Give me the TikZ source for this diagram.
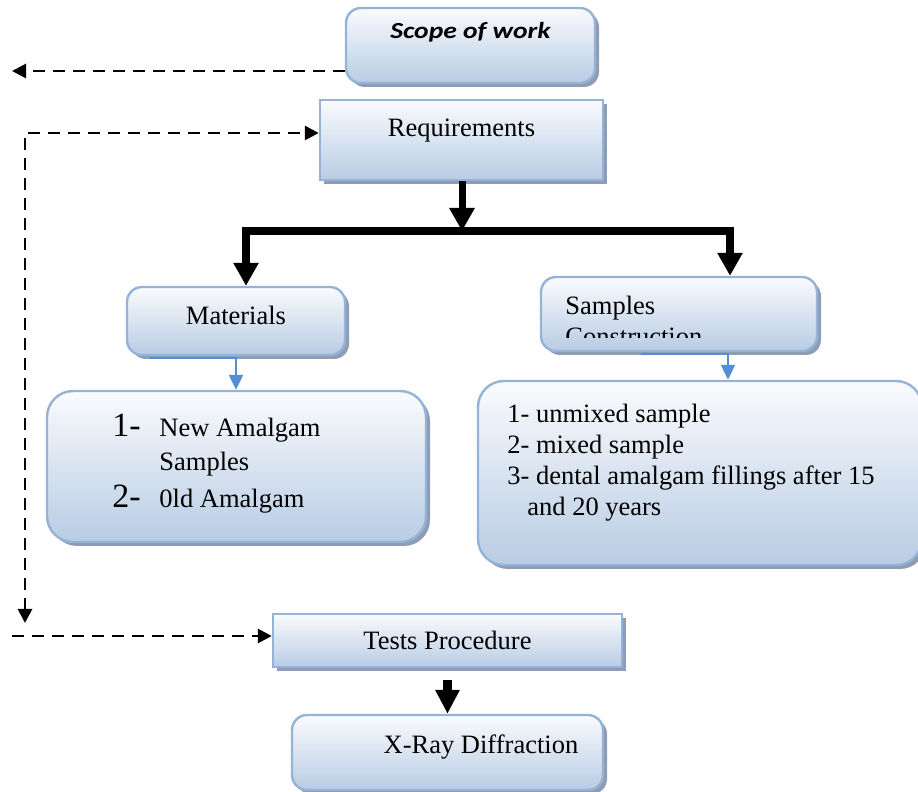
\documentclass[tikz,border=0pt]{standalone}
\usepackage{fontspec}
\setmainfont{Liberation Serif}
\newfontfamily\calfont{Carlito}
\usepackage{graphicx}
\usetikzlibrary{arrows.meta,shadows}
\definecolor{boxtop}{RGB}{250,251,253}
\definecolor{boxbot}{RGB}{184,204,228}
\definecolor{boxline}{RGB}{149,179,215}
\definecolor{boxshade}{RGB}{142,156,180}
\definecolor{linkblue}{RGB}{85,142,213}

\begin{document}
\begin{tikzpicture}[x=0.5pt, y=-0.5pt,
  base/.style={draw=boxline, line width=1.2pt, top color=boxtop, bottom color=boxbot,
    drop shadow={shadow xshift=2pt, shadow yshift=-2pt, fill=boxshade, opacity=1},
    font=\fontsize{13.25}{16}\selectfont, inner sep=0pt},
  card/.style={base, rounded corners=7.5pt},
  plate/.style={base, rounded corners=0pt},
  panel/.style={base, rounded corners=13pt},
  items/.style={inner sep=0pt, anchor=base west, font=\fontsize{13.25}{15.4}\selectfont},
  dashlink/.style={dash pattern=on 6pt off 4pt, line width=1.4pt, -{Triangle[width=7pt,length=7pt]}},
  bigarr/.style={line width=3.5pt, -{Triangle[width=12pt,length=11.5pt]}},
  bigfork/.style={line width=4pt, {Triangle[width=12pt,length=11.5pt]}-{Triangle[width=12pt,length=11.5pt]}},
  bluearr/.style={draw=linkblue, line width=1.1pt, -{Triangle[width=7pt,length=7.5pt]}}
]
\path[use as bounding box, clip] (0,0) rectangle (918,792);

% boxes
\node[card, minimum width=124.5pt, minimum height=37.5pt, text height=7pt, text depth=13.5pt] (scope) at (470.5,45.5)
  {\calfont\fontsize{11.5}{13}\selectfont\bfseries\itshape\scalebox{1.2}[1]{Scope of work}};
\node[plate, minimum width=141.5pt, minimum height=40pt, text height=9pt, text depth=12pt] (req) at (461.5,140) {Requirements};
\node[card, minimum width=109pt, minimum height=34pt, text height=11pt, text depth=7pt] (mat) at (236,321) {Materials};
\node[card, minimum width=138pt, minimum height=37pt] (samp) at (679,314) {};
\node[panel, minimum width=189.5pt, minimum height=75.5pt] (matlist) at (236.5,466.5) {};
\node[panel, minimum width=222pt, minimum height=92pt] (samplist) at (700,473) {};
\node[plate, minimum width=174.5pt, minimum height=26.5pt, text height=12pt, text depth=2.5pt] (tests) at (447.5,640.5) {Tests Procedure};
\node[card, minimum width=155.5pt, minimum height=37.5pt, text height=10pt, text depth=8.5pt] (xray) at (447.5,752.5)
  {\hspace*{33.5pt}X-Ray Diffraction};

% texts in the boxes
\begin{scope}
  \clip (samp.north west) rectangle ([yshift=7.5pt]samp.south east);
  \node[items] (samptext) at (565,315) {\begin{tabular}[t]{@{}l@{}}Samples\\Construction\end{tabular}};
\end{scope}
\node[items, font=\fontsize{13.25}{17}\selectfont] (matitems) at (112,437) {\begin{tabular}[t]{@{}l@{}l@{}}
  \makebox[23.5pt][l]{\fontsize{17}{17}\selectfont 1-} & New Amalgam\\
  & Samples\\[1.5pt]
  \makebox[23.5pt][l]{\fontsize{17}{17}\selectfont 2-} & 0ld Amalgam
\end{tabular}};
\node[items] (sampitems) at (507,423) {\begin{tabular}[t]{@{}l@{}}
  1- unmixed sample\\
  2- mixed sample\\
  3- dental amalgam fillings after 15\\
  \hspace*{10pt}and 20 years
\end{tabular}};

% dashed links
\coordinate (scopeend) at (12,71);
\coordinate (loopbot) at (25,623);
\coordinate (looptop) at (25,133);
\coordinate (testsin) at (12,636);
\draw[dashlink] (scope.west |- scopeend) -- (scopeend);
\draw[dashlink, {Triangle[width=7pt,length=7pt]}-{Triangle[width=7pt,length=7pt]}] (loopbot) |- (req.west |- looptop);
\draw[dashlink] (testsin) -- (tests.west |- testsin);

% black arrows
\coordinate (split) at (462,231);
\coordinate (matin) at (246,231);
\coordinate (sampin) at (730,231);
\draw[bigarr] (req.south -| split) -- (split);
\draw[bigfork] (mat.north -| matin) |- (split) -| (samp.north -| sampin);
\draw[line width=4.5pt, -{Triangle[width=11.5pt,length=12pt]}] ([yshift=-6pt]tests.south) -- (xray.north);

% blue links
\coordinate (sampout) at ([xshift=24.5pt,yshift=-1pt]samp.south);
\draw[bluearr] ([xshift=-43pt,yshift=-1pt]mat.south) -- ([yshift=-1pt]mat.south) -- (mat.south |- matlist.north);
\draw[bluearr] ([xshift=-19pt,yshift=-1pt]samp.south) -- (sampout) -- (sampout |- samplist.north);
\end{tikzpicture}
\end{document}
